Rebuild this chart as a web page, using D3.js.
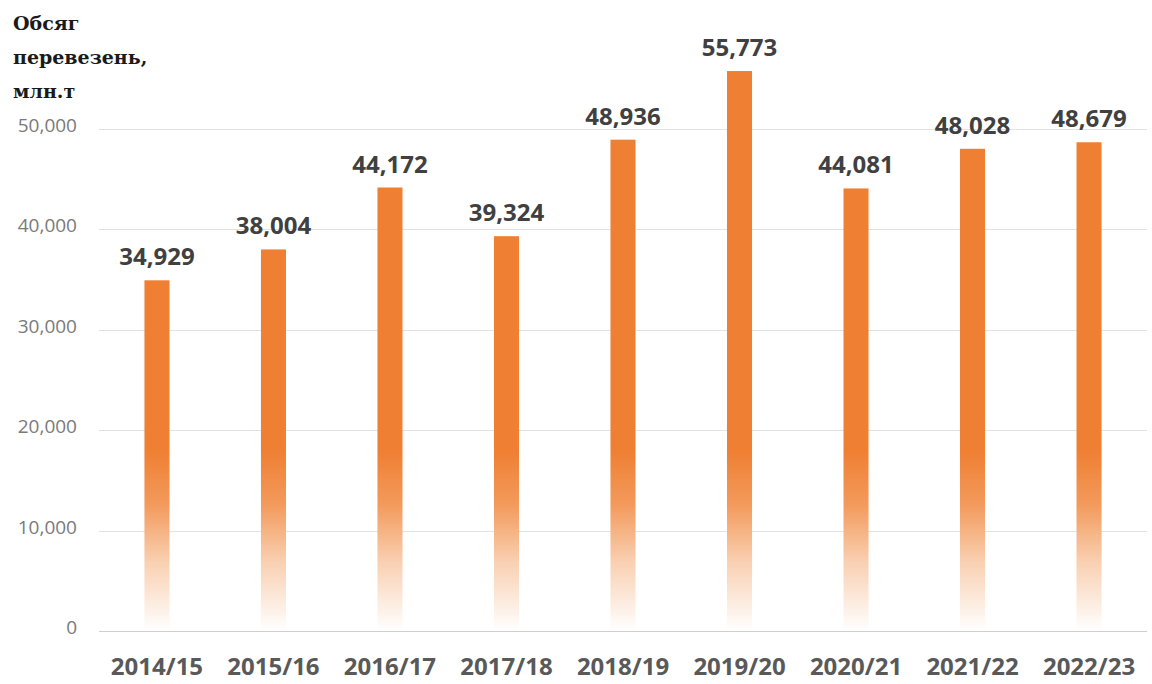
<!DOCTYPE html>
<html>
<head>
<meta charset="utf-8">
<script src="https://cdn.jsdelivr.net/npm/d3@7"></script>
<style>
  body { margin: 0; background: #fff; }
</style>
</head>
<body>
<div id="chart"></div>
<script>
// data
var years = ["2014/15","2015/16","2016/17","2017/18","2018/19","2019/20","2020/21","2021/22","2022/23"]
var volumes = [34929, 38004, 44172, 39324, 48936, 55773, 44081, 48028, 48679]
var yTicks = [0, 10000, 20000, 30000, 40000, 50000]
var titleLines = ["Обсяг", "перевезень,", "млн.т"]

var width = 1152
var height = 684

var svg = d3.select("#chart").append("svg")
    .attr("width", width)
    .attr("height", height)

var x = d3.scaleBand()
    .domain(years)
    .range([99, 1147])
    .paddingInner(0.785)
    .paddingOuter(0.39)

var y = d3.scaleLinear()
    .domain([0, 60000])
    .range([631, 28.6])

// gradient - fades to white near the bottom
var defs = svg.append("defs")
var grad = defs.append("linearGradient")
    .attr("id", "barGrad")
    .attr("gradientUnits", "userSpaceOnUse")
    .attr("x1", 0).attr("x2", 0)
    .attr("y1", y(18000)).attr("y2", y(0))
grad.append("stop").attr("offset", 0).attr("stop-color", "#ef7f33")
grad.append("stop").attr("offset", 0.3).attr("stop-color", "#f39a5c")
grad.append("stop").attr("offset", 0.62).attr("stop-color", "#f9d0b2")
grad.append("stop").attr("offset", 1).attr("stop-color", "#ffffff")

// gridlines
svg.append("g")
    .selectAll("line")
    .data(yTicks)
    .enter().append("line")
    .attr("x1", 99)
    .attr("x2", 1147)
    .attr("y1", function(d){ return Math.round(y(d)) + 0.5 })
    .attr("y2", function(d){ return Math.round(y(d)) + 0.5 })
    .attr("stroke", function(d){ return d == 0 ? "#cfcfcf" : "#e2e2e2" })
    .attr("stroke-width", 1.2)

// y labels
svg.append("g")
    .selectAll("text")
    .data(yTicks)
    .enter().append("text")
    .attr("x", 77)
    .attr("y", function(d){ return y(d) + 3 })
    .attr("text-anchor", "end")
    .attr("font-family", "Open Sans, sans-serif")
    .attr("font-size", 19)
    .attr("fill", "#7a7a7a")
    .text(function(d){ return d3.format(",")(d) })

// bars
svg.append("g")
    .selectAll("rect")
    .data(volumes)
    .enter().append("rect")
    .attr("x", function(d,i){ return x(years[i]) })
    .attr("y", function(d){ return y(d) })
    .attr("width", x.bandwidth())
    .attr("height", function(d){ return y(0) - y(d) })
    .attr("fill", "url(#barGrad)")

// value labels
svg.append("g")
    .selectAll("text")
    .data(volumes)
    .enter().append("text")
    .attr("x", function(d,i){ return x(years[i]) + x.bandwidth()/2 })
    .attr("y", function(d){ return y(d) - 15 })
    .attr("text-anchor", "middle")
    .attr("font-family", "Open Sans, sans-serif")
    .attr("font-weight", "bold")
    .attr("font-size", 24)
    .attr("fill", "#404040")
    .text(function(d){ return d3.format(",")(d) })

// x labels
svg.append("g")
    .selectAll("text")
    .data(years)
    .enter().append("text")
    .attr("x", function(d){ return x(d) + x.bandwidth()/2 })
    .attr("y", 675)
    .attr("text-anchor", "middle")
    .attr("font-family", "Open Sans, sans-serif")
    .attr("font-weight", "bold")
    .attr("font-size", 24)
    .attr("fill", "#595959")
    .text(function(d){ return d })

// title (top left)
svg.append("g")
    .selectAll("text")
    .data(titleLines)
    .enter().append("text")
    .attr("x", 13)
    .attr("y", function(d,i){ return 30 + i*34 })
    .attr("font-family", "DejaVu Serif, serif")
    .attr("font-weight", "bold")
    .attr("font-size", 19)
    .attr("fill", "#1a1a1a")
    .text(function(d){ return d })
</script>
</body>
</html>
